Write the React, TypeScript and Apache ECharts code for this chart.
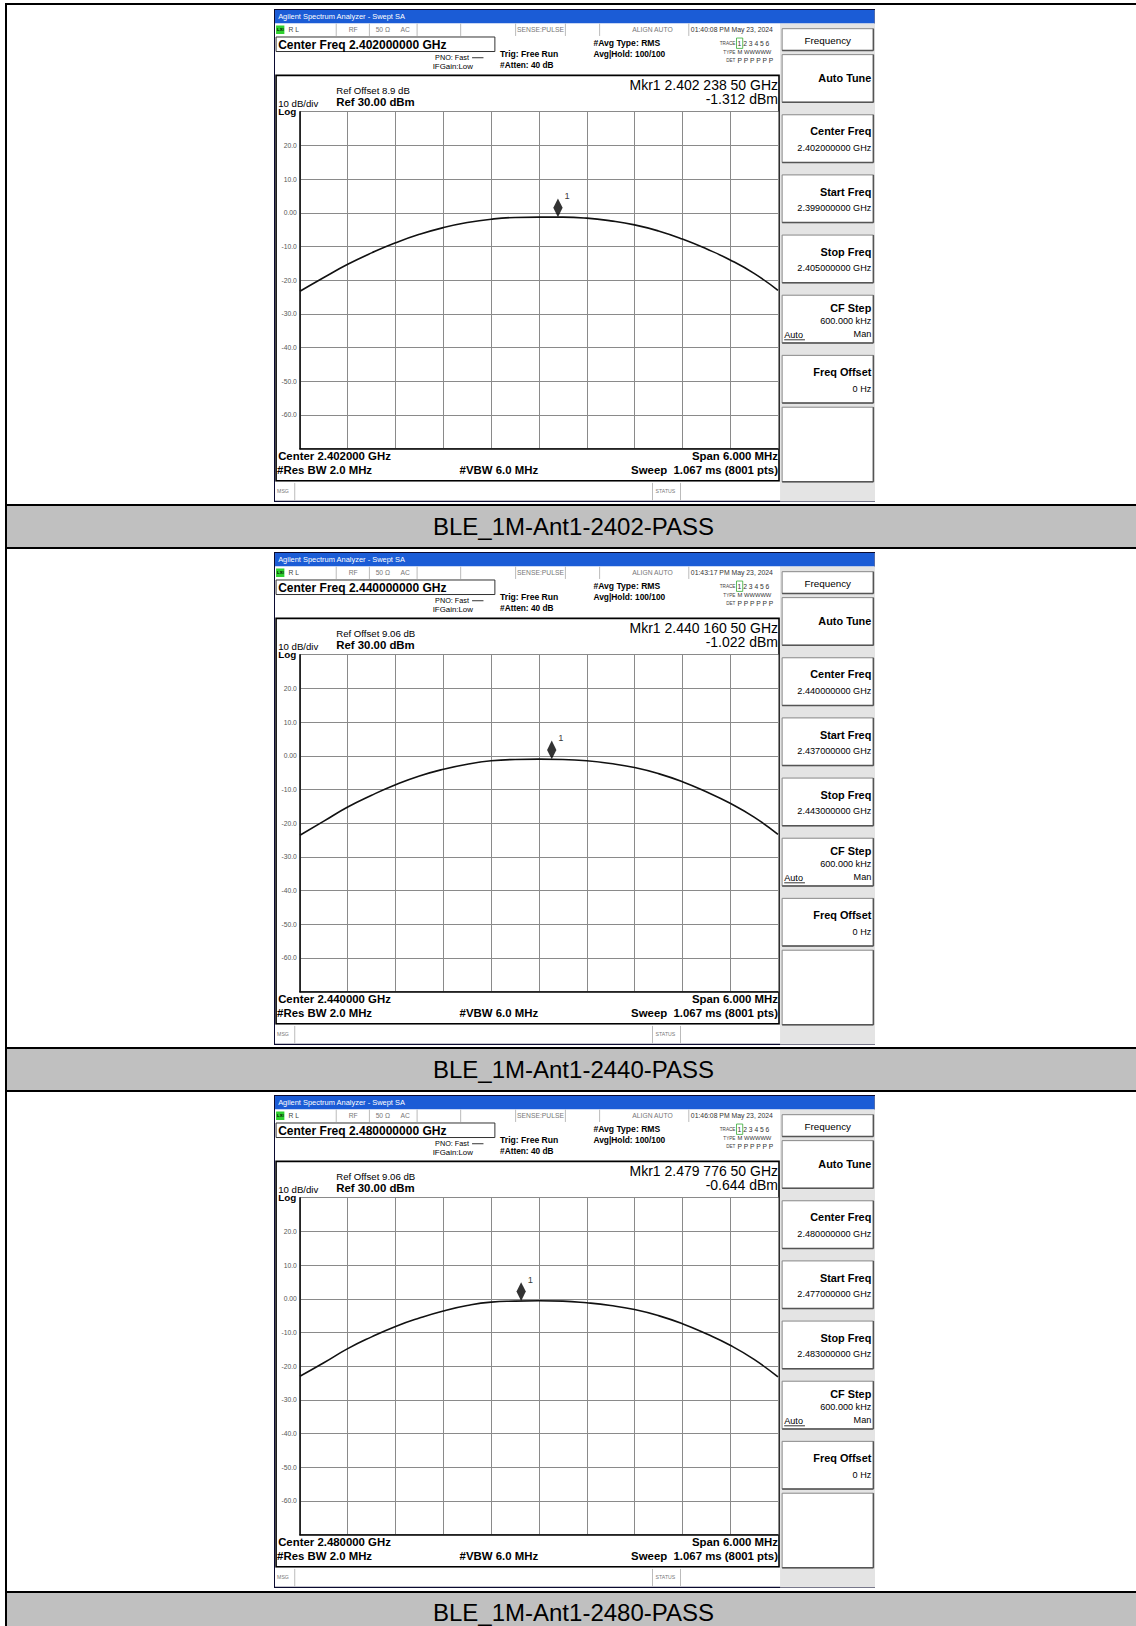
import React, { useEffect, useRef } from 'react';
import * as echarts from 'echarts';

// sweep positions, MHz from start frequency (span 6 MHz)
const sweepOffsets = [0, 0.3, 0.6, 0.9, 1.2, 1.5, 1.8, 2.1, 2.4, 2.7, 3.0, 3.3, 3.6, 3.9, 4.2, 4.5, 4.8, 5.1, 5.4, 5.7, 6.0];
const trace2402 = [-23.3, -19.2, -15.3, -11.9, -8.9, -6.4, -4.4, -2.9, -1.9, -1.4, -1.3, -1.3, -1.6, -2.4, -3.6, -5.4, -7.8, -10.7, -14.0, -18.0, -23.0];
const trace2440 = [-23.6, -19.4, -15.2, -11.7, -8.6, -6.0, -4.0, -2.5, -1.5, -1.1, -1.0, -1.1, -1.5, -2.3, -3.5, -5.3, -7.7, -10.7, -14.1, -18.2, -23.3];
const trace2480 = [-23.0, -19.0, -14.8, -11.3, -8.2, -5.7, -3.6, -2.0, -1.0, -0.7, -0.6, -0.7, -1.2, -2.0, -3.2, -5.0, -7.4, -10.4, -13.8, -18.0, -23.2];
const yTicks = [30, 20, 10, 0, -10, -20, -30, -40, -50, -60, -70];

type Panel = {
  caption: string;
  center: string;
  start: string;
  stop: string;
  time: string;
  refOffset: string;
  mkrFreq: string;
  mkrLevel: string;
  mkrOffset: number;
  mkrValue: number;
  trace: number[];
};

const panels: Panel[] = [
  { caption: 'BLE_1M-Ant1-2402-PASS', center: '2.402000', start: '2.399000000', stop: '2.405000000', time: '01:40:08 PM', refOffset: '8.9', mkrFreq: '2.402 238 50', mkrLevel: '-1.312', mkrOffset: 3.2385, mkrValue: -1.312, trace: trace2402 },
  { caption: 'BLE_1M-Ant1-2440-PASS', center: '2.440000', start: '2.437000000', stop: '2.443000000', time: '01:43:17 PM', refOffset: '9.06', mkrFreq: '2.440 160 50', mkrLevel: '-1.022', mkrOffset: 3.1605, mkrValue: -1.022, trace: trace2440 },
  { caption: 'BLE_1M-Ant1-2480-PASS', center: '2.480000', start: '2.477000000', stop: '2.483000000', time: '01:46:08 PM', refOffset: '9.06', mkrFreq: '2.479 776 50', mkrLevel: '-0.644', mkrOffset: 2.7765, mkrValue: -0.644, trace: trace2480 },
];

const K = 1.037;
const s = (v: number) => v * K;
const FONT = '"Liberation Sans", Arial, sans-serif';

const txt = (x: number, y: number, text: string, size: number, opts: any = {}) => ({
  type: 'text', x: s(x), y: s(y), silent: true,
  style: {
    text, fontSize: s(size), fontFamily: FONT, fontWeight: opts.bold ? 'bold' : 'normal',
    fill: opts.fill || '#000', align: opts.align || 'left', verticalAlign: 'middle',
  },
});
const box = (x: number, y: number, w: number, h: number, fill: string, stroke?: string, lw = 1) => ({
  type: 'rect', silent: true, shape: { x: s(x), y: s(y), width: s(w), height: s(h) },
  style: { fill, stroke: stroke || 'none', lineWidth: lw },
});
const ln = (x1: number, y1: number, x2: number, y2: number, stroke = '#bbb', lw = 1) => ({
  type: 'line', silent: true, shape: { x1: s(x1), y1: s(y1), x2: s(x2), y2: s(y2) }, style: { stroke, lineWidth: lw },
});

function softkeys(p: Panel) {
  const out: any[] = [box(488, 14, 92, 461, '#e4e4e4')];
  const keyBox = (y: number, h: number) => [box(490, y, 88, h, '#fff', '#888', 1), ln(490, y + h, 578, y + h, '#555', 1.5), ln(578, y, 578, y + h, '#555', 1.5)];
  out.push(...keyBox(19, 21), txt(534, 30, 'Frequency', 9.5, { align: 'center' }));
  out.push(...keyBox(44, 46), txt(576, 67, 'Auto Tune', 10.5, { bold: true, align: 'right' }));
  const two = [['Center Freq', p.center + '000 GHz'], ['Start Freq', p.start + ' GHz'], ['Stop Freq', p.stop + ' GHz']];
  two.forEach((t, i) => {
    const y = 102 + i * 58;
    out.push(...keyBox(y, 46), txt(576, y + 16, t[0], 10.5, { bold: true, align: 'right' }), txt(576, y + 32, t[1], 8.8, { align: 'right' }));
  });
  out.push(...keyBox(276, 46), txt(576, 288, 'CF Step', 10.5, { bold: true, align: 'right' }), txt(576, 301, '600.000 kHz', 8.8, { align: 'right' }),
    txt(492, 314, 'Auto', 8.8), ln(492, 319, 512, 319, '#000', 0.8), txt(576, 313, 'Man', 8.8, { align: 'right' }));
  out.push(...keyBox(334, 46), txt(576, 350, 'Freq Offset', 10.5, { bold: true, align: 'right' }), txt(576, 366, '0 Hz', 8.8, { align: 'right' }));
  out.push(...keyBox(384, 72));
  return out;
}

function panelGraphic(p: Panel) {
  const g: any[] = [
    box(0, 0, 580, 475, '#fff', '#0a0a30', 2),
    box(1, 1, 578, 13, '#1b5cd6'),
    txt(4, 7.5, 'Agilent Spectrum Analyzer - Swept SA', 7.2, { fill: '#fff' }),
    box(1, 14, 487, 12, '#fff'),
    box(2, 16, 8, 8, '#2fd02f'),
    txt(3, 20, 'LXI', 4, { bold: true }),
    txt(14, 20, 'R L', 6.5, { fill: '#444' }),
    ln(60, 14, 60, 26), txt(72, 20, 'RF', 6.5, { fill: '#777' }),
    ln(92, 14, 92, 26), txt(98, 20, '50 Ω', 6.5, { fill: '#777' }), txt(122, 20, 'AC', 6.5, { fill: '#777' }),
    ln(138, 14, 138, 26), ln(180, 14, 180, 26),
    ln(233, 14, 233, 26), txt(257, 20, 'SENSE:PULSE', 6.5, { fill: '#777', align: 'center' }), ln(281, 14, 281, 26),
    ln(314, 14, 314, 26), txt(365, 20, 'ALIGN AUTO', 6.5, { fill: '#777', align: 'center' }),
    ln(400, 14, 400, 26), txt(402, 20, p.time + ' May 23, 2024', 6.6, { fill: '#333' }),
    box(2, 27, 211, 14, '#fff', '#333', 1),
    txt(4, 34.5, 'Center Freq ' + p.center + '000 GHz', 11.6, { bold: true }),
    txt(188, 47, 'PNO: Fast', 7, { align: 'right' }), ln(191, 47, 202, 47, '#000', 0.8), txt(153, 55.5, 'IFGain:Low', 7.6),
    txt(218, 43, 'Trig: Free Run', 8.3, { bold: true }),
    txt(218, 54, '#Atten: 40 dB', 8, { bold: true }),
    txt(308, 33, '#Avg Type: RMS', 8.3, { bold: true }),
    txt(308, 43, 'Avg|Hold: 100/100', 8.1, { bold: true }),
    txt(445, 33, 'TRACE', 4.5, { fill: '#444', align: 'right' }), txt(447, 33, '1 2 3 4 5 6', 6.5, { fill: '#333' }),
    box(446, 28, 6, 10, 'none', '#3a3', 0.8),
    txt(445, 41.5, 'TYPE', 4.5, { fill: '#444', align: 'right' }), txt(447, 41.5, 'M WWWWW', 5.6, { fill: '#333' }),
    txt(445, 50, 'DET', 4.5, { fill: '#444', align: 'right' }), txt(447, 50, 'P P P P P P', 6.5, { fill: '#333' }),
    box(2, 64, 485, 391, 'none', '#000', 1.6),
    txt(60, 79, 'Ref Offset ' + p.refOffset + ' dB', 9.3),
    txt(60, 90, 'Ref 30.00 dBm', 11, { bold: true }),
    txt(4, 91, '10 dB/div', 9.3),
    txt(4, 99, 'Log', 9.5, { bold: true }),
    txt(486, 73, 'Mkr1 ' + p.mkrFreq + ' GHz', 13.5, { align: 'right' }),
    txt(486, 87, p.mkrLevel + ' dBm', 13.5, { align: 'right' }),
    txt(4, 431, 'Center ' + p.center + ' GHz', 11, { bold: true }),
    txt(486, 431, 'Span 6.000 MHz', 11, { bold: true, align: 'right' }),
    txt(3, 445, '#Res BW 2.0 MHz', 11, { bold: true }),
    txt(179, 445, '#VBW 6.0 MHz', 11, { bold: true }),
    txt(486, 445, 'Sweep  1.067 ms (8001 pts)', 11, { bold: true, align: 'right' }),
    box(1, 456, 487, 18, '#fff'),
    ln(20, 457, 20, 474), txt(3, 465, 'MSG', 5, { fill: '#777' }),
    ln(365, 457, 365, 474), txt(368, 465, 'STATUS', 5, { fill: '#777' }), ln(392, 457, 392, 474),
    ...softkeys(p),
  ];
  return g;
}

const PanelChart: React.FC<{ p: Panel }> = ({ p }) => {
  const ref = useRef<HTMLDivElement>(null);
  useEffect(() => {
    if (!ref.current) return;
    const chart = echarts.init(ref.current, null, { renderer: 'svg' });
    chart.setOption({
      animation: false,
      graphic: panelGraphic(p),
      grid: { left: s(25), top: s(99), width: s(461), height: s(325) },
      xAxis: {
        type: 'value', min: 0, max: 6, interval: 0.6,
        axisLine: { show: true, onZero: false, lineStyle: { color: '#000', width: 1.5 } },
        axisTick: { show: false }, axisLabel: { show: false },
        splitLine: { show: true, lineStyle: { color: '#8a8a8a', width: 1 } },
      },
      yAxis: {
        type: 'value', min: yTicks[yTicks.length - 1], max: yTicks[0], interval: 10,
        axisLine: { show: true, onZero: false, lineStyle: { color: '#000', width: 1.5 } },
        axisTick: { show: false },
        axisLabel: {
          fontSize: s(6.5), color: '#555', fontFamily: FONT, margin: s(3),
          formatter: (v: number) => (v === 30 || v === -70 ? '' : v === 0 ? '0.00' : v.toFixed(1)),
        },
        splitLine: { show: true, lineStyle: { color: '#8a8a8a', width: 1 } },
      },
      series: [
        {
          type: 'line', data: sweepOffsets.map((x, i) => [x, p.trace[i]]),
          smooth: 0.5, showSymbol: false, lineStyle: { color: '#111', width: 1.6 }, silent: true,
        },
        {
          type: 'scatter', data: [[p.mkrOffset, p.mkrValue]], symbol: 'diamond',
          symbolSize: [s(9), s(18)], symbolOffset: [0, -s(9)], itemStyle: { color: '#000' }, silent: true,
          label: { show: true, formatter: '1', position: 'right', offset: [-s(3), -s(11)], fontSize: s(9), color: '#000', fontFamily: FONT },
        },
      ],
    });
    return () => chart.dispose();
  }, [p]);
  return <div ref={ref} style={{ width: s(580), height: s(475) }} />;
};

const ROW = 543.4;

const App: React.FC = () => (
  <div style={{ position: 'absolute', left: 0, top: 0, width: 1136, height: 1626, overflow: 'hidden', background: '#fff', fontFamily: FONT }}>
    <div style={{ position: 'absolute', left: 5, top: 3, width: 1131, height: 2, background: '#000' }} />
    <div style={{ position: 'absolute', left: 5, top: 3, width: 2, height: 1623, background: '#000' }} />
    {panels.map((p, i) => {
      const top = 3 + i * ROW;
      return (
        <React.Fragment key={p.caption}>
          <div style={{ position: 'absolute', left: 274, top: top + 5.5 }}>
            <PanelChart p={p} />
          </div>
          <div style={{
            position: 'absolute', left: 7, top: top + 501, width: 1129, height: 41, background: '#c0c0c0',
            borderTop: '2px solid #000', borderBottom: '2px solid #000', display: 'flex', alignItems: 'center',
            justifyContent: 'center', fontSize: 24, color: '#000',
          }}>
            <span style={{ marginLeft: 4 }}>{p.caption}</span>
          </div>
        </React.Fragment>
      );
    })}
  </div>
);

export default App;
